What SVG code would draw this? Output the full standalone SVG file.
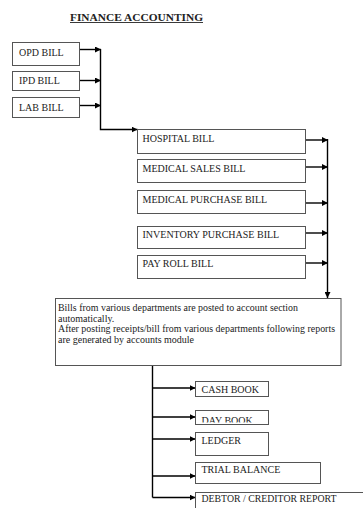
<svg xmlns="http://www.w3.org/2000/svg" width="363" height="508" viewBox="0 0 363 508">
<style>
.box{fill:#fff;stroke:#555;stroke-width:1}
.lbl{font-family:"Liberation Serif","Times New Roman",serif;font-size:10px;fill:#222}
.con{fill:none;stroke:#000;stroke-width:1.4}
.ttl{font-family:"Liberation Serif","Times New Roman",serif;font-size:10.5px;font-weight:bold;fill:#222}
</style>
<defs>
<marker id="ah" markerUnits="userSpaceOnUse" markerWidth="7" markerHeight="6" refX="6" refY="3" orient="auto">
<path d="M0,0 L6,3 L0,6 z" fill="#000"/>
</marker>
<clipPath id="dayclip"><rect x="195" y="405" width="80" height="17.5"/></clipPath>
</defs>
<rect width="363" height="508" fill="#fff"/>
<g id="title">
<text class="ttl" x="70" y="20.5" textLength="133" lengthAdjust="spacingAndGlyphs">FINANCE ACCOUNTING</text>
<line x1="70" y1="22.5" x2="203" y2="22.5" stroke="#222" stroke-width="0.9"/>
</g>
<g id="connectors">
<path class="con" d="M79.5,49.5 H101" marker-end="url(#ah)" stroke-width="1.8"/>
<path class="con" d="M79.5,80.5 H101" marker-end="url(#ah)" stroke-width="1.8"/>
<path class="con" d="M79.5,105.5 H101" marker-end="url(#ah)" stroke-width="1.8"/>
<path class="con" d="M100.5,49 V129.5 H137.5" marker-end="url(#ah)" stroke-width="1"/>
<path class="con" d="M305.5,140 H328" marker-end="url(#ah)"/>
<path class="con" d="M305.5,167 H328" marker-end="url(#ah)"/>
<path class="con" d="M305.5,203 H328" marker-end="url(#ah)"/>
<path class="con" d="M305.5,233 H328" marker-end="url(#ah)"/>
<path class="con" d="M305.5,263 H328" marker-end="url(#ah)"/>
<path class="con" d="M327.5,139 V298" marker-end="url(#ah)"/>
<path class="con" d="M152.5,366 V497.5" stroke-width="1"/>
<path class="con" d="M152.5,388 H195.5" marker-end="url(#ah)"/>
<path class="con" d="M152.5,417 H195.5" marker-end="url(#ah)"/>
<path class="con" d="M152.5,439 H195.5" marker-end="url(#ah)"/>
<path class="con" d="M152.5,476 H195.5" marker-end="url(#ah)"/>
<path class="con" d="M152.5,497.5 H195.5" marker-end="url(#ah)"/>
</g>
<g id="opd"><rect class="box" x="12.5" y="42.5" width="67" height="23"/><text class="lbl" x="19" y="56">OPD BILL</text></g>
<g id="ipd"><rect class="box" x="12.5" y="71.5" width="67" height="19"/><text class="lbl" x="19" y="84">IPD BILL</text></g>
<g id="lab"><rect class="box" x="12.5" y="97.5" width="67" height="20"/><text class="lbl" x="19" y="111">LAB BILL</text></g>
<g id="hospital"><rect class="box" x="137.5" y="129.5" width="168" height="24"/><text class="lbl" x="142.5" y="141.5">HOSPITAL BILL</text></g>
<g id="medsales"><rect class="box" x="137.5" y="159.5" width="168" height="23"/><text class="lbl" x="142.5" y="172">MEDICAL SALES BILL</text></g>
<g id="medpurchase"><rect class="box" x="137.5" y="190.5" width="168" height="23"/><text class="lbl" x="142.5" y="203">MEDICAL PURCHASE BILL</text></g>
<g id="invpurchase"><rect class="box" x="137.5" y="226.5" width="168" height="22"/><text class="lbl" x="142.5" y="238">INVENTORY PURCHASE BILL</text></g>
<g id="payroll"><rect class="box" x="137.5" y="255.5" width="168" height="23"/><text class="lbl" x="142.5" y="267">PAY ROLL BILL</text></g>
<g id="accounts">
<rect class="box" x="55.5" y="298.5" width="285.5" height="67"/>
<text class="lbl" x="58" y="311" textLength="240" lengthAdjust="spacingAndGlyphs">Bills from various departments are posted to account section</text>
<text class="lbl" x="58" y="321.5">automatically.</text>
<text class="lbl" x="58" y="332" textLength="277" lengthAdjust="spacingAndGlyphs">After posting receipts/bill from various departments following reports</text>
<text class="lbl" x="58" y="342.5">are generated by accounts module</text>
</g>
<g id="cashbook"><rect class="box" x="195.5" y="381.5" width="73" height="15"/><text class="lbl" x="201.5" y="392.5">CASH BOOK</text></g>
<g id="daybook"><rect class="box" x="195.5" y="410.5" width="73" height="14"/><text class="lbl" x="201.5" y="424" clip-path="url(#dayclip)">DAY BOOK</text></g>
<g id="ledger"><rect class="box" x="195.5" y="432.5" width="73" height="23"/><text class="lbl" x="201.5" y="444">LEDGER</text></g>
<g id="trial"><rect class="box" x="195.5" y="462.5" width="125" height="21"/><text class="lbl" x="201.5" y="473">TRIAL BALANCE</text></g>
<g id="debtor"><rect class="box" x="195.5" y="492.5" width="180" height="30"/><text class="lbl" x="201.5" y="501.5" textLength="135" lengthAdjust="spacingAndGlyphs">DEBTOR / CREDITOR REPORT</text></g>
</svg>
